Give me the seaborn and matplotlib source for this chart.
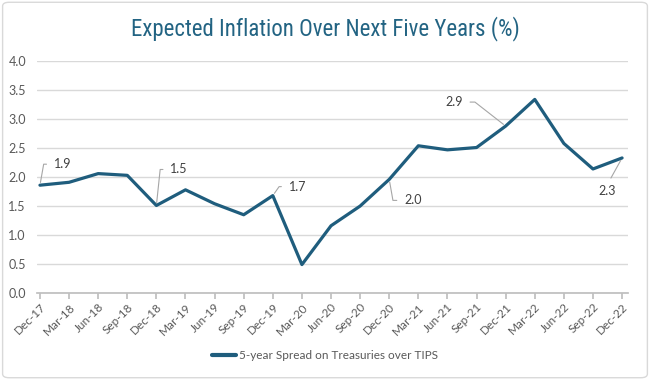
import matplotlib
matplotlib.use("Agg")
import matplotlib.pyplot as plt
from matplotlib.patches import FancyBboxPatch
import pandas as pd
import seaborn as sns

quarters = ["Dec-17", "Mar-18", "Jun-18", "Sep-18", "Dec-18", "Mar-19", "Jun-19",
            "Sep-19", "Dec-19", "Mar-20", "Jun-20", "Sep-20", "Dec-20", "Mar-21",
            "Jun-21", "Sep-21", "Dec-21", "Mar-22", "Jun-22", "Sep-22", "Dec-22"]
spread = [1.86, 1.91, 2.06, 2.03, 1.51, 1.78, 1.54, 1.35, 1.68, 0.49, 1.16,
          1.50, 1.96, 2.54, 2.47, 2.51, 2.88, 3.34, 2.58, 2.14, 2.33]
series_name = "5-year Spread on Treasuries over TIPS"

# labelled points: (quarter, text, offset in pixels, text anchor, leader angle)
labels = [("Dec-17", "1.9", (14, 21), "left", 80),
          ("Dec-18", "1.5", (14, 36), "left", 84),
          ("Dec-19", "1.7", (16, 9), "left", 55),
          ("Dec-20", "2.0", (15, -21), "left", -80),
          ("Dec-21", "2.9", (-43, 24), "right", -38),
          ("Dec-22", "2.3", (-15, -33), "center", None)]

df = pd.DataFrame({"quarter": quarters, "spread": spread})

sns.set_theme(style="white")
plt.rcParams["font.family"] = ["Lato", "DejaVu Sans"]

navy = "#1f5d7d"
grey_txt = "#595959"

fig = plt.figure(figsize=(6.5, 3.8), dpi=100)
ax = fig.add_axes([0.057, 0.229, 0.909, 0.61])

sns.lineplot(data=df, x="quarter", y="spread", ax=ax, color=navy,
             linewidth=2.3, sort=False, label=series_name, legend=False)

ax.set_ylim(0, 4)
ax.set_xlim(-0.1, len(quarters) - 0.8)
ax.set_yticks([i * 0.5 for i in range(9)])
ax.set_yticklabels([f"{i * 0.5:.1f}" for i in range(9)], color=grey_txt, fontsize=9)
ax.set_xticks(range(len(quarters)))
ax.set_xticklabels(quarters, rotation=45, ha="right", rotation_mode="anchor",
                   color=grey_txt, fontsize=8.5)
ax.tick_params(axis="x", length=4, color="#bfbfbf", pad=2, bottom=True)
ax.tick_params(axis="y", length=0, pad=8)
ax.yaxis.grid(True, color="#d9d9d9", linewidth=1)
ax.set_axisbelow(True)
for s in ["top", "right", "left"]:
    ax.spines[s].set_visible(False)
ax.spines["bottom"].set_color("#bfbfbf")
ax.set_xlabel("")
ax.set_ylabel("")

for q, txt, off, ha, ang in labels:
    i = quarters.index(q)
    if ang is None:
        cs = "arc3"
    else:
        cs = f"angle,angleA=0,angleB={ang},rad=0"
    relx = {"left": 0.0, "right": 1.0, "center": 0.5}[ha]
    rely = 0.5 if ha != "center" else 1.0
    ax.annotate(txt, xy=(i, spread[i]), xytext=off, textcoords="offset pixels",
                ha=ha, va="center", fontsize=9, color="#404040",
                arrowprops=dict(arrowstyle="-", color="#a6a6a6", lw=0.8,
                                connectionstyle=cs, shrinkA=3, shrinkB=2,
                                relpos=(relx, rely)))

fig.text(0.5, 0.925, "Expected Inflation Over Next Five Years (%)", ha="center",
         va="center", fontsize=16.5, color="#236483", fontstretch="condensed",
         family=["Roboto Condensed", "Lato", "DejaVu Sans"])

fig.legend(loc="center", bbox_to_anchor=(0.5, 0.065), frameon=False, fontsize=8.5,
           handlelength=2.0, handletextpad=0.3, labelcolor=grey_txt)
for h in fig.legends[0].get_lines():
    h.set_linewidth(3)

fig.patches.append(FancyBboxPatch((0.004, 0.006), 0.992, 0.988,
                                  boxstyle="round,pad=0,rounding_size=0.01",
                                  transform=fig.transFigure, fill=False,
                                  edgecolor="#d9d9d9", linewidth=1))

fig.savefig("out.png", dpi=100)
